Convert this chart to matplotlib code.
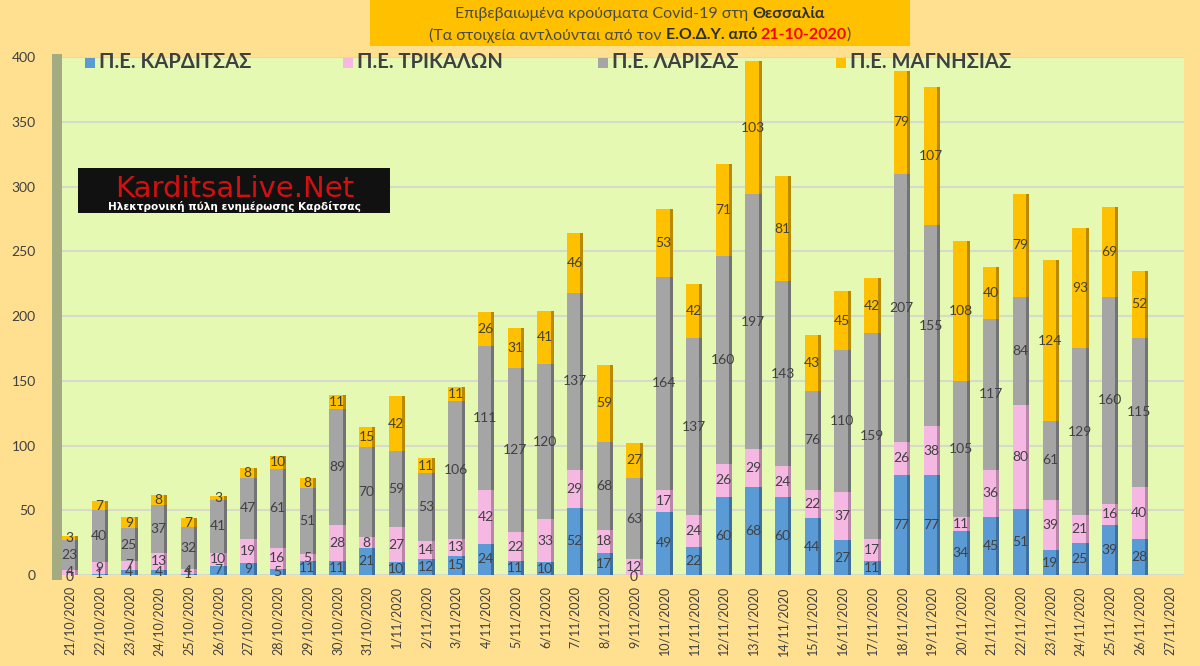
import matplotlib.pyplot as plt
import matplotlib.patches as patches
import numpy as np

plt.rcParams['font.family'] = ['Lato', 'DejaVu Sans']

# dates and cases per regional unit
dates = ['21/10/2020', '22/10/2020', '23/10/2020', '24/10/2020', '25/10/2020',
         '26/10/2020', '27/10/2020', '28/10/2020', '29/10/2020', '30/10/2020',
         '31/10/2020', '1/11/2020', '2/11/2020', '3/11/2020', '4/11/2020',
         '5/11/2020', '6/11/2020', '7/11/2020', '8/11/2020', '9/11/2020',
         '10/11/2020', '11/11/2020', '12/11/2020', '13/11/2020', '14/11/2020',
         '15/11/2020', '16/11/2020', '17/11/2020', '18/11/2020', '19/11/2020',
         '20/11/2020', '21/11/2020', '22/11/2020', '23/11/2020', '24/11/2020',
         '25/11/2020', '26/11/2020', '27/11/2020']
karditsa = [0, 1, 4, 4, 1, 7, 9, 5, 11, 11, 21, 10, 12, 15, 24, 11, 10, 52, 17, 0,
            49, 22, 60, 68, 60, 44, 27, 11, 77, 77, 34, 45, 51, 19, 25, 39, 28, None]
trikala = [4, 9, 7, 13, 4, 10, 19, 16, 5, 28, 8, 27, 14, 13, 42, 22, 33, 29, 18, 12,
           17, 24, 26, 29, 24, 22, 37, 17, 26, 38, 11, 36, 80, 39, 21, 16, 40, None]
larisa = [23, 40, 25, 37, 32, 41, 47, 61, 51, 89, 70, 59, 53, 106, 111, 127, 120, 137, 68, 63,
          164, 137, 160, 197, 143, 76, 110, 159, 207, 155, 105, 117, 84, 61, 129, 160, 115, None]
magnisia = [3, 7, 9, 8, 7, 3, 8, 10, 8, 11, 15, 42, 11, 11, 26, 31, 41, 46, 59, 27,
            53, 42, 71, 103, 81, 43, 45, 42, 79, 107, 108, 40, 79, 124, 93, 69, 52, None]

series = [('Π.Ε. ΚΑΡΔΙΤΣΑΣ', karditsa, '#5B9BD5', '#3F6F9E'),
          ('Π.Ε. ΤΡΙΚΑΛΩΝ', trikala, '#F4B8E2', '#B886A8'),
          ('Π.Ε. ΛΑΡΙΣΑΣ', larisa, '#A5A5A5', '#737373'),
          ('Π.Ε. ΜΑΓΝΗΣΙΑΣ', magnisia, '#FFC000', '#B88A00')]

bg = '#FFDF90'
fig = plt.figure(figsize=(12, 6.66), dpi=100, facecolor=bg)
ax = fig.add_axes([0.046, 0.1366, 0.941, 0.7778])
ax.set_facecolor('#E6F9B2')

x = np.arange(len(dates))
bottom = np.zeros(len(dates))
for name, vals, col, side in series:
    v = np.array([np.nan if a is None else a for a in vals], dtype=float)
    ok = ~np.isnan(v)
    ax.bar(x[ok] - 0.05, v[ok], width=0.45, bottom=bottom[ok], color=col, zorder=3)
    ax.bar(x[ok] + 0.225, v[ok], width=0.1, bottom=bottom[ok], color=side, zorder=3)
    for xi, vi, bi in zip(x[ok], v[ok], bottom[ok]):
        yy = bi + vi / 2 if vi > 0 else -1.5
        ax.text(xi - 0.02, yy, str(int(vi)), ha='center', va='center',
                fontsize=10, color='#404040', zorder=4, clip_on=False)
    bottom[ok] += v[ok]

ax.set_xlim(-0.5, 37.5)
ax.set_ylim(0, 400)
ax.set_yticks(range(0, 401, 50))
ax.yaxis.grid(True, color='#D5DBC8', lw=1.5, zorder=0)
ax.tick_params(axis='y', length=0, labelsize=10, labelcolor='#404040', pad=14)
ax.set_xticks(x)
ax.set_xticklabels(dates, rotation=90, fontsize=9, color='#404040')
ax.tick_params(axis='x', length=0, pad=8)
for s in ax.spines.values():
    s.set_visible(False)

# legend drawn by hand at the reference positions
leg_x = [85, 343, 598, 836]
for (name, vals, col, side), lx in zip(series, leg_x):
    fig.patches.append(patches.Rectangle((lx / 1200, 1 - 68 / 666), 10 / 1200, 10 / 666,
                                         transform=fig.transFigure, facecolor=col,
                                         edgecolor='none', zorder=5))
    fig.text((lx + 14) / 1200, 1 - 62 / 666, name, ha='left', va='center',
             fontsize=14.5, weight='bold', color='#404040', zorder=6)

# left 3D wall
fig.patches.append(patches.Rectangle((52 / 1200, 86 / 666), 10 / 1200, 526 / 666,
                                     transform=fig.transFigure, facecolor='#A3AC80',
                                     edgecolor='none', zorder=0))

# logo
fig.patches.append(patches.Rectangle((78 / 1200, 1 - 213 / 666), 312 / 1200, 45 / 666,
                                     transform=fig.transFigure, facecolor='#111111',
                                     edgecolor='none', zorder=5))
fig.text(235 / 1200, 1 - 189 / 666, 'KarditsaLive.Net', ha='center', va='center',
         fontsize=21, color='#D21010', zorder=6, family='DejaVu Sans')
fig.text(234 / 1200, 1 - 206 / 666, 'Ηλεκτρονική πύλη ενημέρωσης Καρδίτσας',
         ha='center', va='center', fontsize=7.6, color='white', weight='bold',
         zorder=6, family='DejaVu Sans')

# title box
fig.patches.append(patches.Rectangle((370 / 1200, 1 - 46 / 666), 540 / 1200, 46 / 666,
                                     transform=fig.transFigure, facecolor='#FFC000',
                                     edgecolor='none', zorder=1))

renderer = fig.canvas.get_renderer()


def rich_line(parts, y, size):
    texts = []
    for s, w, c in parts:
        texts.append(fig.text(0, y, s, fontsize=size, weight=w, color=c,
                              va='center', ha='left', zorder=6))
    widths = [t.get_window_extent(renderer=renderer).width for t in texts]
    start = 640 - sum(widths) / 2
    for t, w in zip(texts, widths):
        t.set_x(start / 1200)
        start += w


rich_line([('Επιβεβαιωμένα κρούσματα Covid-19 στη ', 'normal', '#4A4A4A'),
           ('Θεσσαλία', 'bold', '#2E2E2E')], 1 - 14 / 666, 11.5)
rich_line([('(Τα στοιχεία αντλούνται από τον ', 'normal', '#4A4A4A'),
           ('Ε.Ο.Δ.Υ. από ', 'bold', '#2E2E2E'),
           ('21-10-2020', 'bold', '#FF0000'),
           (')', 'normal', '#4A4A4A')], 1 - 35 / 666, 11.5)

fig.savefig('out.png', dpi=100, facecolor=bg)
